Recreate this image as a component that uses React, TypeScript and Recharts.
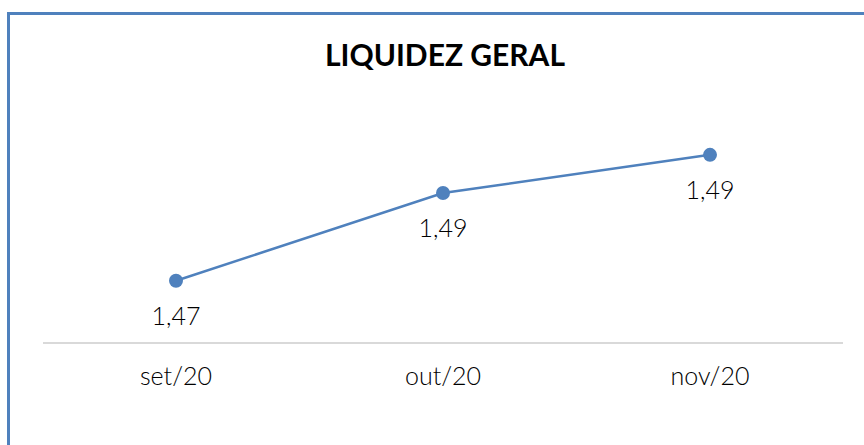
import React from 'react';
import { LineChart, Line, XAxis, YAxis, LabelList } from 'recharts';

const months = ['set/20', 'out/20', 'nov/20'];
const liquidez = [1.4677, 1.4856, 1.4934];

const data = months.map((m, i) => ({ month: m, value: liquidez[i] }));

const fmt = (v: any) => Number(v).toFixed(2).replace('.', ',');

const FONT = '"Century Gothic", "Lato", "DejaVu Sans", sans-serif';

const App: React.FC = () => {
  return (
    <div style={{ position: 'absolute', left: 0, top: 0, width: 864, height: 445, overflow: 'hidden', background: '#fff' }}>
      <div style={{
        position: 'absolute', left: 7, top: 12, width: 900, height: 500,
        borderLeft: '3px solid #4F81BD', borderTop: '3px solid #4F81BD',
      }} />
      <svg style={{ position: 'absolute', left: 0, top: 0 }} width={864} height={100}>
        <text x={445} y={66} textAnchor="middle" fontFamily={FONT} fontWeight={700}
          fontSize={30} textLength={240} lengthAdjust="spacingAndGlyphs" fill="#000">
          LIQUIDEZ GERAL
        </text>
      </svg>
      <div style={{ position: 'absolute', left: 0, top: 0 }}>
        <LineChart width={864} height={445} data={data}
          margin={{ top: 98, right: 21, bottom: 72, left: 43 }}>
          <XAxis dataKey="month" height={30} axisLine={{ stroke: '#d9d9d9', strokeWidth: 2 }} tickLine={false}
            tickSize={0} tickMargin={24} padding={{ left: 133, right: 133 }}
            tick={{ fontSize: 25, fill: '#000', fontFamily: FONT, fontWeight: 300 }} />
          <YAxis hide domain={[1.455, 1.505]} />
          <Line dataKey="value" stroke="#4F81BD" strokeWidth={2.5} isAnimationActive={false}
            dot={{ r: 7, fill: '#4F81BD', stroke: '#4F81BD', strokeWidth: 0 }}>
            <LabelList dataKey="value" position="bottom" offset={26} formatter={fmt}
              style={{ fontSize: 25, fill: '#000', fontFamily: FONT, fontWeight: 300 }} />
          </Line>
        </LineChart>
      </div>
    </div>
  );
};

export default App;
